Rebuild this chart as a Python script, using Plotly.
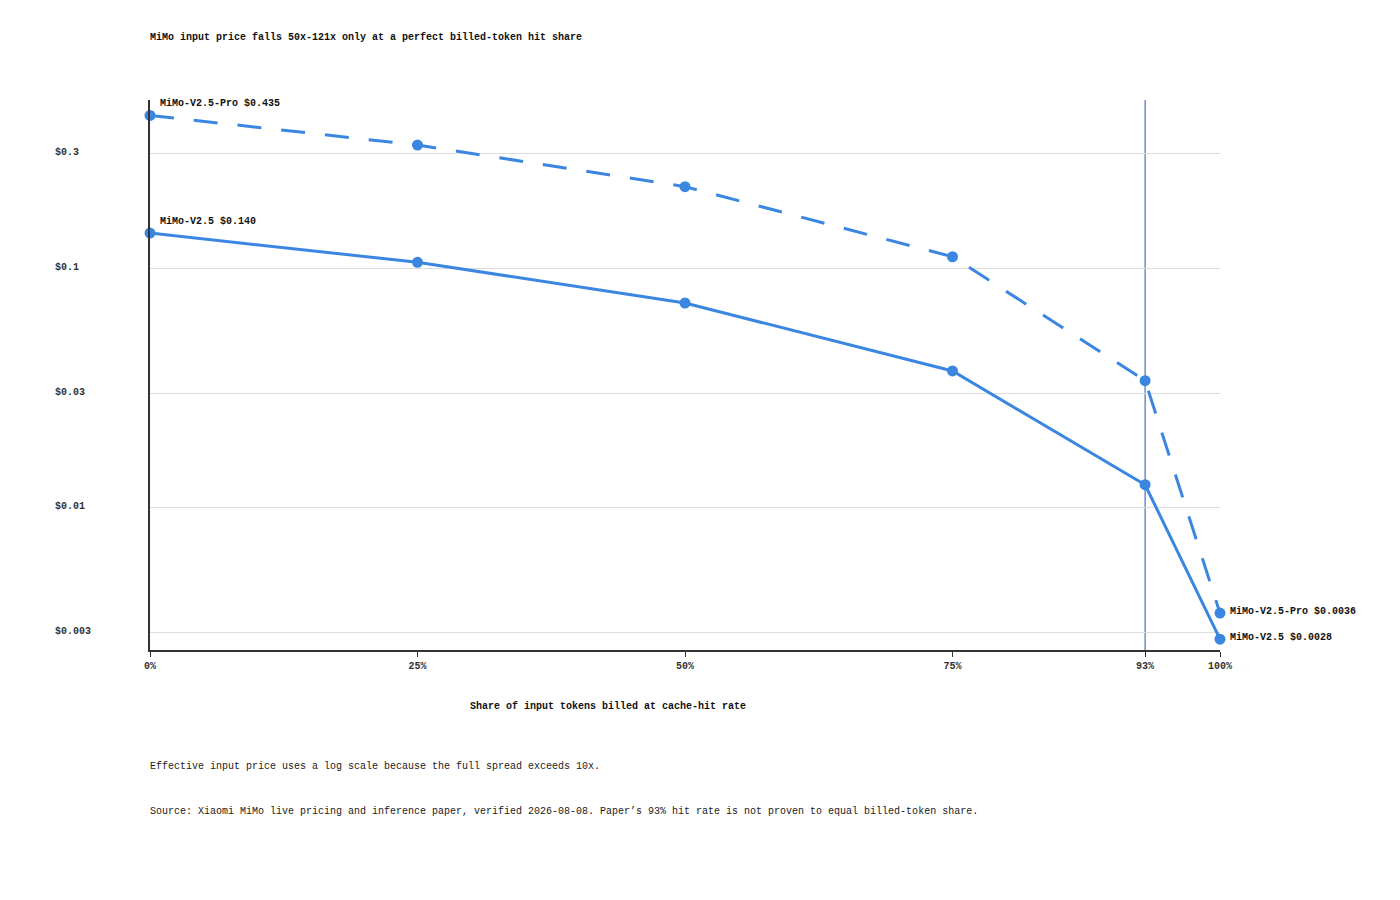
import plotly.graph_objects as go
import math

# ---- data ----
share_pct = [0, 25, 50, 75, 93, 100]
share_labels = ["0%", "25%", "50%", "75%", "93%", "100%"]
series_names = ["MiMo-V2.5-Pro", "MiMo-V2.5"]
pro_price = [0.435, 0.327, 0.219, 0.1115, 0.0338, 0.0036]
std_price = [0.140, 0.1057, 0.0714, 0.0371, 0.0124, 0.0028]
start_labels = ["$0.435", "$0.140"]
end_labels = ["$0.0036", "$0.0028"]
y_tick_vals = [0.003, 0.01, 0.03, 0.1, 0.3]
y_tick_text = ["$0.003", "$0.01", "$0.03", "$0.1", "$0.3"]
ref_share = 93

title_text = "MiMo input price falls 50x-121x only at a perfect billed-token hit share"
x_title = "Share of input tokens billed at cache-hit rate"
note_text = "Effective input price uses a log scale because the full spread exceeds 10x."
source_text = ("Source: Xiaomi MiMo live pricing and inference paper, verified 2026-08-08. "
               "Paper\u2019s 93% hit rate is not proven to equal billed-token share.")

BLUE = "#3a86e0"
FONT = "Liberation Mono, Courier New, monospace"
DARK = "#333333"

OFF = 8  # page offset of the figure inside the browser page
W, H = 1400, 900
plot_left = 150 - OFF
plot_right = 1220 - OFF
plot_top = 100 - OFF
plot_bottom = 650 - OFF
ML = 30
MR = W - plot_right
MT = plot_top
MB = H - plot_bottom
PW = W - ML - MR
PH = H - MT - MB
dom0 = (plot_left - ML) / PW
yrange = [-2.598, -0.297]


def px_x(px):
    return (px - OFF - ML) / PW


def px_y(py):
    return (plot_bottom - (py - OFF)) / PH


fig = go.Figure()
fig.add_trace(go.Scatter(
    x=share_pct, y=pro_price, mode="lines+markers", name=series_names[0],
    line=dict(color=BLUE, width=3, dash="24px,20px"),
    marker=dict(size=11, color=BLUE), showlegend=False, cliponaxis=False))
fig.add_trace(go.Scatter(
    x=share_pct, y=std_price, mode="lines+markers", name=series_names[1],
    line=dict(color=BLUE, width=3),
    marker=dict(size=11, color=BLUE), showlegend=False, cliponaxis=False))
# invisible trace carrying the left tick-label axis
fig.add_trace(go.Scatter(
    x=share_pct, y=std_price, yaxis="y2", mode="markers",
    marker=dict(opacity=0), hoverinfo="skip", showlegend=False))

# reference vertical line at 93%
fig.add_shape(type="line", xref="x", yref="paper", x0=ref_share, x1=ref_share,
              y0=0, y1=1, line=dict(color="#2456b4", width=1), layer="below")

annotations = []
for name, lab, ys in zip(series_names, start_labels, [pro_price, std_price]):
    annotations.append(dict(
        x=share_pct[0], y=math.log10(ys[0]), xref="x", yref="y",
        text=f"{name} {lab}", showarrow=False, xanchor="left", yanchor="bottom",
        xshift=8, yshift=4, font=dict(family=FONT, size=10, color="#111111", weight="bold")))
for name, lab, ys in zip(series_names, end_labels, [pro_price, std_price]):
    annotations.append(dict(
        x=share_pct[-1], y=math.log10(ys[-1]), xref="x", yref="y",
        text=f"{name} {lab}", showarrow=False, xanchor="left", yanchor="middle",
        xshift=8, yshift=2, font=dict(family=FONT, size=10, color="#111111", weight="bold")))
annotations.append(dict(
    x=px_x(607.5), y=px_y(706), xref="paper", yref="paper",
    text=x_title, showarrow=False, xanchor="center", yanchor="middle",
    font=dict(family=FONT, size=10, color="#111111", weight="bold")))
annotations.append(dict(
    x=px_x(148), y=px_y(766), xref="paper", yref="paper",
    text=note_text, showarrow=False, xanchor="left", yanchor="middle",
    font=dict(family=FONT, size=10, color="#1a1a1a")))
annotations.append(dict(
    x=px_x(148), y=px_y(811), xref="paper", yref="paper",
    text=source_text, showarrow=False, xanchor="left", yanchor="middle",
    font=dict(family=FONT, size=10, color="#1a1a1a")))

fig.update_layout(
    width=W, height=H,
    margin=dict(l=ML, r=MR, t=MT, b=MB),
    paper_bgcolor="white", plot_bgcolor="white",
    title=dict(text=title_text, x=(150 - OFF) / W, xanchor="left",
               y=1 - (36 - OFF) / H, yanchor="middle",
               font=dict(family=FONT, size=10, color="#111111", weight="bold")),
    xaxis=dict(
        domain=[dom0, 1], range=[0, 100], tickmode="array",
        tickvals=share_pct, ticktext=share_labels,
        showgrid=False, zeroline=False, showline=True, linecolor=DARK, linewidth=2,
        ticks="outside", ticklen=5, tickcolor=DARK, tickwidth=1,
        tickfont=dict(family=FONT, size=10, color=DARK, weight="bold")),
    yaxis=dict(
        type="log", range=yrange, tickmode="array", tickvals=y_tick_vals,
        showticklabels=False, showgrid=True, gridcolor="#dddddd", gridwidth=1,
        zeroline=False, showline=True, linecolor=DARK, linewidth=2, ticks=""),
    yaxis2=dict(
        type="log", range=yrange, overlaying="y", anchor="free", side="left",
        position=px_x(51), tickmode="array", tickvals=y_tick_vals,
        ticktext=y_tick_text, ticklabelposition="inside", ticklabelshift=-2,
        showgrid=False, zeroline=False, showline=False, ticks="",
        tickfont=dict(family=FONT, size=10, color=DARK, weight="bold")),
    annotations=annotations,
)

fig.write_html("out.html")
